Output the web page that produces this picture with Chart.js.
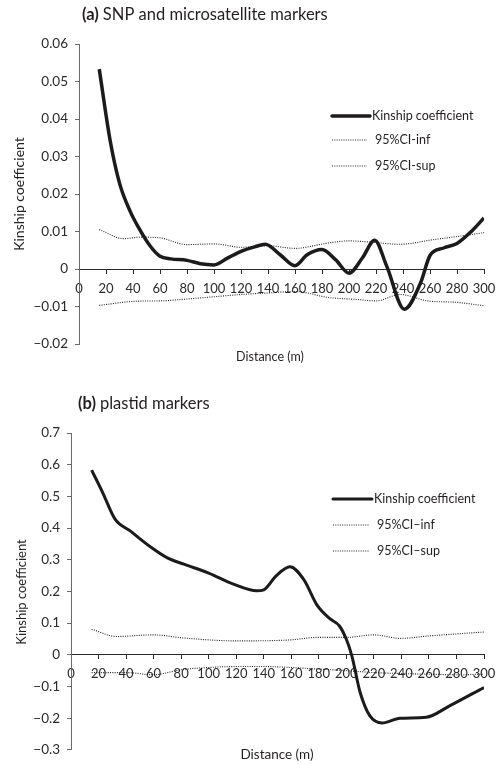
<!DOCTYPE html>
<html>
<head>
<meta charset="utf-8">
<script src="https://cdn.jsdelivr.net/npm/chart.js@4/dist/chart.umd.min.js"></script>
<style>
  html, body { margin: 0; padding: 0; background: #fff; }
  #wrap { position: relative; width: 504px; height: 765px; }
  .panel { position: absolute; left: 0; width: 504px; }
  #pa { top: 0; height: 378px; }
  #pb { top: 378px; height: 387px; }
</style>
</head>
<body>
<div id="wrap">
  <div class="panel" id="pa"><canvas id="ca" width="504" height="378"></canvas></div>
  <div class="panel" id="pb"><canvas id="cb" width="504" height="387"></canvas></div>
</div>
<script>
// Distance classes (m) shared tick labels
const distanceTicks = [0, 20, 40, 60, 80, 100, 120, 140, 160, 180, 200, 220, 240, 260, 280, 300];
const kinTicksA = [-0.02, -0.01, 0, 0.01, 0.02, 0.03, 0.04, 0.05, 0.06];
const kinTicksB = [-0.3, -0.2, -0.1, 0, 0.1, 0.2, 0.3, 0.4, 0.5, 0.6, 0.7];

// (a) SNP and microsatellite markers
const distKinA = [15, 23, 30, 38, 45, 53, 60, 68, 80, 90, 100, 110, 120, 130, 138, 149, 160, 169, 180, 190, 200, 210, 219, 228, 241, 253, 260, 270, 280, 290, 300];
const kinA     = [0.0533, 0.0344, 0.0229, 0.0153, 0.0105, 0.0060, 0.0034, 0.0027, 0.0023, 0.0014, 0.0011, 0.0029, 0.0047, 0.0059, 0.0066, 0.0038, 0.0009, 0.0038, 0.0052, 0.0025, -0.0011, 0.0030, 0.0077, 0.0007, -0.0107, -0.0037, 0.0036, 0.0056, 0.0068, 0.0098, 0.0136];
const distInfA = [15, 42, 60, 80, 100, 120, 140, 160, 185, 205, 220, 238, 258, 280, 300];
const infA     = [-0.0097, -0.0086, -0.0085, -0.0080, -0.0074, -0.0068, -0.0064, -0.0060, -0.0076, -0.0081, -0.0085, -0.0068, -0.0085, -0.0089, -0.0098];
const distSupA = [15, 33, 46, 60, 80, 100, 120, 140, 160, 184, 200, 215, 238, 262, 285, 300];
const supA     = [0.0105, 0.0081, 0.0085, 0.0083, 0.0065, 0.0067, 0.0058, 0.0062, 0.0055, 0.0069, 0.0075, 0.0072, 0.0066, 0.0078, 0.0089, 0.0097];

// (b) plastid markers
const distKinB = [15, 23, 32, 43, 57, 70, 82, 100, 118, 135, 140, 149, 159, 169, 179, 188, 195, 200, 204, 210, 217, 226, 239, 258, 275, 300];
const kinB     = [0.583, 0.512, 0.428, 0.391, 0.343, 0.306, 0.286, 0.258, 0.223, 0.202, 0.205, 0.249, 0.278, 0.238, 0.155, 0.114, 0.091, 0.049, -0.003, -0.118, -0.192, -0.215, -0.200, -0.197, -0.161, -0.103];
const distInfB = [15, 40, 60, 80, 100, 120, 140, 160, 180, 200, 220, 240, 260, 280, 300];
const infB     = [-0.056, -0.056, -0.063, -0.047, -0.040, -0.037, -0.037, -0.040, -0.045, -0.050, -0.056, -0.059, -0.061, -0.063, -0.061];
const distSupB = [15, 33, 60, 82, 120, 159, 179, 200, 220, 239, 261, 300];
const supB     = [0.081, 0.058, 0.063, 0.053, 0.044, 0.047, 0.055, 0.055, 0.063, 0.052, 0.060, 0.072];

const FONT = 'Lato, "Open Sans", sans-serif';
const INK = '#231f20';

function pairs(xs, ys) { return xs.map((x, i) => ({ x: x, y: ys[i] })); }

function fmtTick(v, digits) {
  if (Math.abs(v) < 1e-9) return '0';
  const s = Math.abs(v).toFixed(digits);
  return v < 0 ? '\u2212' + s : s;
}

// Panel title, axis titles and the legend block
const panelDecor = {
  id: 'panelDecor',
  afterDraw(chart, args, o) {
    const ctx = chart.ctx;
    ctx.save();
    ctx.fillStyle = INK;
    ctx.textBaseline = 'middle';
    // title with bold panel letter
    ctx.font = 'bold 16.5px ' + FONT;
    ctx.textAlign = 'left';
    ctx.fillText(o.tag, o.titleX, o.titleY);
    const w = ctx.measureText(o.tag + ' ').width;
    ctx.font = '16.5px ' + FONT;
    ctx.fillText(o.title, o.titleX + w, o.titleY);
    // x axis title
    ctx.font = o.xTitleSize + 'px ' + FONT;
    ctx.textAlign = 'center';
    ctx.fillText(o.xTitle, o.xTitleX, o.xTitleY);
    // y axis title
    ctx.save();
    ctx.translate(o.yTitleX, o.yTitleY);
    ctx.rotate(-Math.PI / 2);
    ctx.font = o.yTitleSize + 'px ' + FONT;
    ctx.fillText(o.yTitle, 0, 0);
    ctx.restore();
    // legend
    ctx.textAlign = 'left';
    ctx.font = '12.5px ' + FONT;
    chart.data.datasets.forEach((ds, i) => {
      const y = o.legendY[i];
      ctx.save();
      ctx.strokeStyle = ds.borderColor;
      ctx.lineWidth = ds.borderWidth;
      ctx.lineCap = ds.borderDash ? 'butt' : 'round';
      ctx.setLineDash(ds.borderDash || []);
      ctx.beginPath();
      ctx.moveTo(o.legendX0, y);
      ctx.lineTo(ds.borderDash ? o.legendX1 - 3 : o.legendX1, y);
      ctx.stroke();
      ctx.restore();
      ctx.fillStyle = INK;
      ctx.fillText(ds.label, o.legendX1 + (ds.borderDash ? 5 : 2), y);
    });
    ctx.restore();
  }
};

function makeChart(id, cfg) {
  const datasets = [
    { label: 'Kinship coefficient', data: pairs(cfg.kx, cfg.ky), borderColor: '#1c1a1a', borderWidth: cfg.kinWidth },
    { label: cfg.infLabel, data: pairs(cfg.ix, cfg.iy), borderColor: '#222222', borderWidth: 1.1, borderDash: [1, 1.3] },
    { label: cfg.supLabel, data: pairs(cfg.sx, cfg.sy), borderColor: '#222222', borderWidth: 1.1, borderDash: [1, 1.3] }
  ];
  datasets.forEach(d => {
    d.fill = false; d.pointRadius = 0; d.pointHoverRadius = 0;
    d.cubicInterpolationMode = 'monotone';
  });
  return new Chart(document.getElementById(id), {
    type: 'line',
    data: { datasets: datasets },
    options: {
      responsive: false,
      animation: false,
      events: [],
      layout: { padding: cfg.padding },
      plugins: {
        legend: { display: false },
        tooltip: { enabled: false },
        panelDecor: cfg.decor
      },
      scales: {
        x: {
          type: 'linear',
          min: 0, max: 300,
          position: { y: 0 },
          afterBuildTicks: s => { s.ticks = distanceTicks.map(v => ({ value: v })); },
          grid: { drawOnChartArea: false, drawTicks: true, tickLength: 4, color: '#2a2a2a', lineWidth: 1 },
          border: { display: true, color: '#2a2a2a', width: 1 },
          ticks: {
            autoSkip: false, maxRotation: 0, padding: cfg.xPad,
            color: '#2a2a2a', font: { family: FONT, size: 13 },
            callback: v => String(v)
          }
        },
        y: {
          type: 'linear',
          min: cfg.yTicks[0], max: cfg.yTicks[cfg.yTicks.length - 1],
          afterBuildTicks: s => { s.ticks = cfg.yTicks.map(v => ({ value: v })); },
          afterFit: s => { s.width = cfg.yWidth; },
          grid: { drawOnChartArea: false, drawTicks: true, tickLength: 4, color: '#6a6a6a', lineWidth: 1 },
          border: { display: true, color: '#6a6a6a', width: 1 },
          ticks: {
            autoSkip: false, padding: 7,
            color: '#2a2a2a', font: { family: FONT, size: 13.5 },
            callback: v => fmtTick(v, cfg.digits)
          }
        }
      }
    },
    plugins: [panelDecor]
  });
}

makeChart('ca', {
  kx: distKinA, ky: kinA, ix: distInfA, iy: infA, sx: distSupA, sy: supA,
  kinWidth: 3.5, infLabel: '95%CI-inf', supLabel: '95%CI-sup',
  yTicks: kinTicksA, digits: 2, yWidth: 79, xPad: 8,
  padding: { left: 0, right: 20, top: 44, bottom: 34 },
  decor: {
    tag: '(a)', title: 'SNP and microsatellite markers', titleX: 82, titleY: 15,
    xTitle: 'Distance (m)', xTitleX: 270, xTitleY: 357, xTitleSize: 12.5,
    yTitle: 'Kinship coefficient', yTitleX: 19, yTitleY: 194, yTitleSize: 14,
    legendX0: 332, legendX1: 370, legendY: [116, 140, 166]
  }
});

makeChart('cb', {
  kx: distKinB, ky: kinB, ix: distInfB, iy: infB, sx: distSupB, sy: supB,
  kinWidth: 3.0, infLabel: '95%CI\u2013inf', supLabel: '95%CI\u2013sup',
  yTicks: kinTicksB, digits: 1, yWidth: 71, xPad: 7,
  padding: { left: 0, right: 20, top: 55, bottom: 14 },
  decor: {
    tag: '(b)', title: 'plastid markers', titleX: 78, titleY: 26,
    xTitle: 'Distance (m)', xTitleX: 277, xTitleY: 377, xTitleSize: 13.5,
    yTitle: 'Kinship coefficient', yTitleX: 22, yTitleY: 214, yTitleSize: 13,
    legendX0: 333, legendX1: 372, legendY: [121, 147, 173]
  }
});
</script>
</body>
</html>
